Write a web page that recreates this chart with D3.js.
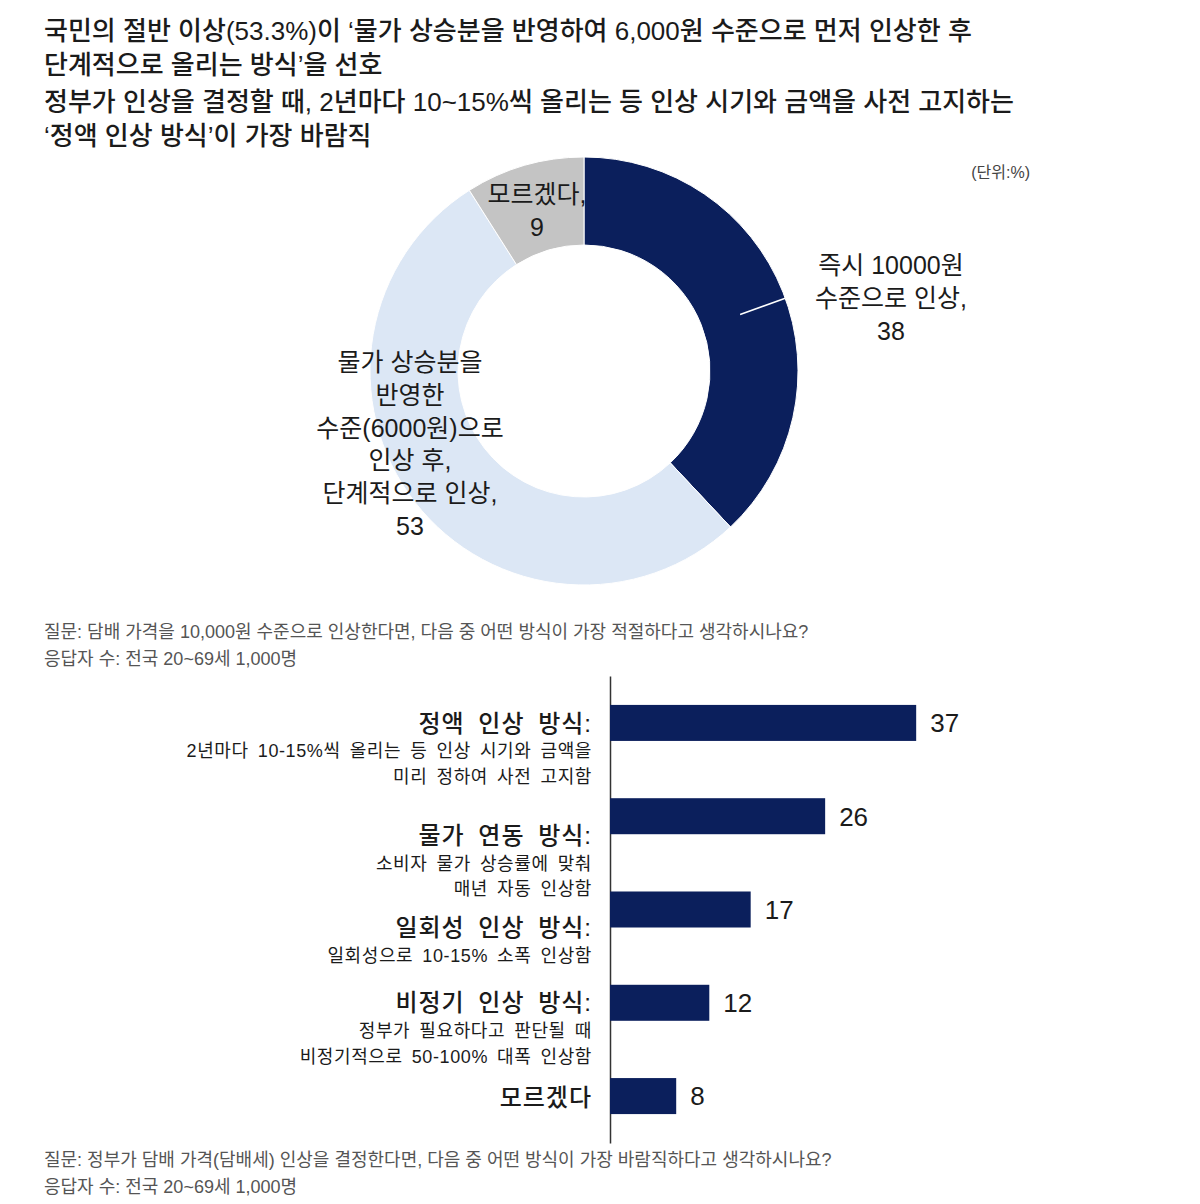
<!DOCTYPE html>
<html>
<head>
<meta charset="utf-8">
<script src="https://cdn.jsdelivr.net/npm/d3@7"></script>
<style>
  body { margin: 0; background: #fff; }
  svg { display: block; font-family: "Liberation Sans", "Noto Sans CJK KR", sans-serif; }
</style>
</head>
<body>
<div id="chart"></div>
<script>
// ---- data ----
const titleLines = [
  "국민의 절반 이상(53.3%)이 ‘물가 상승분을 반영하여 6,000원 수준으로 먼저 인상한 후",
  "단계적으로 올리는 방식’을 선호",
  "정부가 인상을 결정할 때, 2년마다 10~15%씩 올리는 등 인상 시기와 금액을 사전 고지하는",
  "‘정액 인상 방식’이 가장 바람직"
]
const unitLabel = "(단위:%)"

const pieLabels = [
  ["즉시 10000원", "수준으로 인상,", "38"],
  ["물가 상승분을", "반영한", "수준(6000원)으로", "인상 후,", "단계적으로 인상,", "53"],
  ["모르겠다,", "9"]
]
const pieValues = [38, 53, 9]
const pieNote = [
  "질문: 담배 가격을 10,000원 수준으로 인상한다면, 다음 중 어떤 방식이 가장 적절하다고 생각하시나요?",
  "응답자 수: 전국 20~69세 1,000명"
]

const barCats = ["정액 인상 방식:", "물가 연동 방식:", "일회성 인상 방식:", "비정기 인상 방식:", "모르겠다"]
const barSubs = [
  ["2년마다 10-15%씩 올리는 등 인상 시기와 금액을", "미리 정하여 사전 고지함"],
  ["소비자 물가 상승률에 맞춰", "매년 자동 인상함"],
  ["일회성으로 10-15% 소폭 인상함"],
  ["정부가 필요하다고 판단될 때", "비정기적으로 50-100% 대폭 인상함"],
  []
]
const barValues = [37, 26, 17, 12, 8]
const barNote = [
  "질문: 정부가 담배 가격(담배세) 인상을 결정한다면, 다음 중 어떤 방식이 가장 바람직하다고 생각하시나요?",
  "응답자 수: 전국 20~69세 1,000명"
]

// ---- layout ----
const W = 1200, H = 1204
const navy = "#0b1f5c", light = "#dce7f5", grey = "#c4c4c4"
const ink = "#1b1b1b"

const svg = d3.select("#chart").append("svg")
    .attr("width", W)
    .attr("height", H)

svg.append("rect").attr("width", W).attr("height", H).attr("fill", "#fff")

// title
svg.append("g").selectAll("text")
    .data(titleLines)
    .enter().append("text")
    .attr("x", 44)
    .attr("y", (d, i) => [40, 74, 111, 145][i])
    .attr("font-size", 26)
    .attr("font-weight", 500)
    .attr("fill", ink)
    .text(d => d)

svg.append("text")
    .attr("x", 1030).attr("y", 178)
    .attr("text-anchor", "end")
    .attr("font-size", 16)
    .attr("fill", "#444")
    .text(unitLabel)

// donut
const cx = 584, cy = 371
const outerR = 214, innerR = 126

const pie = d3.pie().sort(null).value(d => d)
const arc = d3.arc().innerRadius(innerR).outerRadius(outerR)
const arcs = pie(pieValues)

const donut = svg.append("g").attr("transform", `translate(${cx},${cy})`)

donut.selectAll("path")
    .data(arcs)
    .enter().append("path")
    .attr("d", arc)
    .attr("fill", (d, i) => [navy, light, grey][i])
    .attr("stroke", "#fff")
    .attr("stroke-width", 1)

// leader line on the navy slice
const mid = (arcs[0].startAngle + arcs[0].endAngle) / 2 + 0.03
const pt = r => [r * Math.sin(mid), -r * Math.cos(mid)]
donut.append("line")
    .attr("x1", pt(166)[0]).attr("y1", pt(166)[1])
    .attr("x2", pt(outerR)[0]).attr("y2", pt(outerR)[1])
    .attr("stroke", "#fff")
    .attr("stroke-width", 1.5)

const pieLabelPos = [[307, -97], [-174, 0], [-47, -168]]
pieLabels.forEach((lines, i) => {
    const t = donut.append("text")
        .attr("text-anchor", "middle")
        .attr("font-size", 25)
        .attr("fill", ink)
    lines.forEach((line, j) => {
        t.append("tspan")
            .attr("x", pieLabelPos[i][0])
            .attr("y", pieLabelPos[i][1] + j * 32.8)
            .text(line)
    })
})

svg.append("g").selectAll("text")
    .data(pieNote)
    .enter().append("text")
    .attr("x", 44)
    .attr("y", (d, i) => 638 + i * 27)
    .attr("font-size", 18)
    .attr("fill", "#555")
    .text(d => d)

// bars
const x = d3.scaleLinear().domain([0, 40]).range([610, 941])
const y = d3.scaleBand().domain(barCats).range([676, 1143]).paddingInner(0.614).paddingOuter(0.31)

svg.append("g")
    .attr("transform", `translate(${x(0)},0)`)
    .call(d3.axisLeft(y).tickSize(0).tickSizeOuter(0).tickFormat(""))
    .call(g => g.select(".domain").attr("stroke", "#333").attr("stroke-width", 1.5))

svg.append("g").selectAll("rect")
    .data(barValues)
    .enter().append("rect")
    .attr("x", x(0))
    .attr("y", (d, i) => y(barCats[i]))
    .attr("width", d => x(d) - x(0))
    .attr("height", y.bandwidth())
    .attr("fill", navy)

svg.append("g").selectAll("text")
    .data(barValues)
    .enter().append("text")
    .attr("x", d => x(d) + 14)
    .attr("y", (d, i) => y(barCats[i]) + y.bandwidth() / 2)
    .attr("dy", "0.36em")
    .attr("font-size", 26)
    .attr("fill", ink)
    .text(d => d)

// category labels, some sit a little below their bar
const labelShift = [0, 19, 18, 0, 1]
barCats.forEach((cat, i) => {
    const base = y(cat) + y.bandwidth() / 2 + labelShift[i]
    svg.append("text")
        .attr("x", 592).attr("y", base)
        .attr("dy", "0.36em")
        .attr("text-anchor", "end")
        .attr("font-size", 24)
        .attr("font-weight", 500)
        .attr("letter-spacing", 1)
        .attr("word-spacing", 6)
        .attr("fill", ink)
        .text(cat)
    barSubs[i].forEach((s, j) => {
        svg.append("text")
            .attr("x", 592).attr("y", base + 28 + j * 25.5)
            .attr("dy", "0.36em")
            .attr("text-anchor", "end")
            .attr("font-size", 18)
            .attr("letter-spacing", 0.6)
            .attr("word-spacing", 3.5)
            .attr("fill", ink)
            .text(s)
    })
})

svg.append("g").selectAll("text")
    .data(barNote)
    .enter().append("text")
    .attr("x", 44)
    .attr("y", (d, i) => 1166 + i * 27)
    .attr("font-size", 18)
    .attr("fill", "#555")
    .text(d => d)
</script>
</body>
</html>
